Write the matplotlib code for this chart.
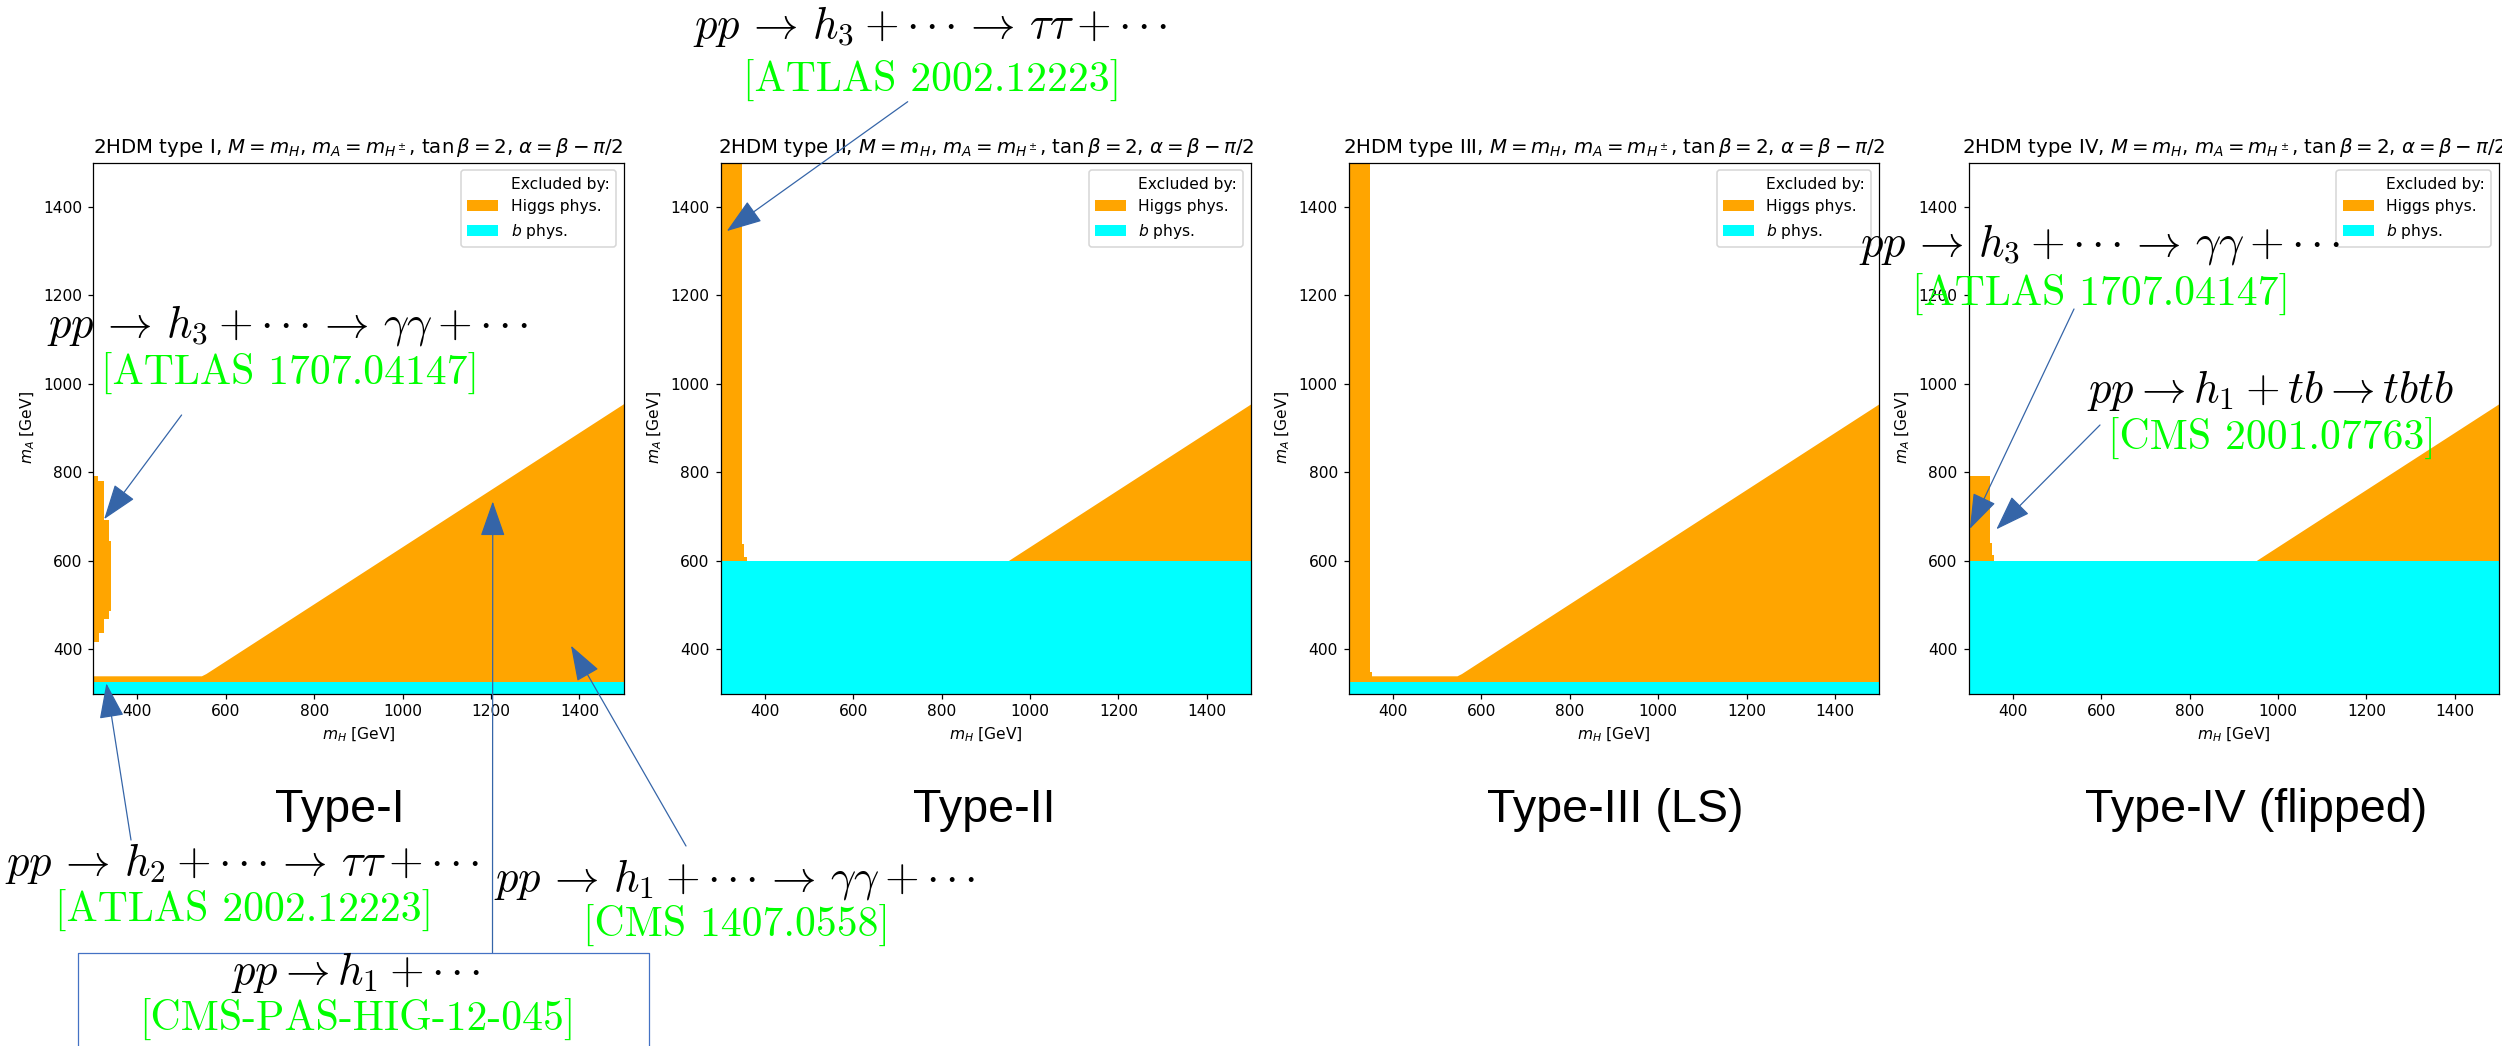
import matplotlib
matplotlib.use('Agg')
import matplotlib.pyplot as plt
from matplotlib.patches import Patch
from matplotlib.lines import Line2D

W, H = 2502, 1046
DPI = 112

# ---------------- data ----------------
PANEL_TYPES = ['I', 'II', 'III', 'IV']
PANEL_LABELS = ['Type-I', 'Type-II', 'Type-III (LS)', 'Type-IV (flipped)']
MH_LIM = [300, 1500]
MA_LIM = [300, 1500]

# b-physics exclusion: m_A below this value (GeV)
B_PHYS_MA_MAX = [326, 600, 326, 600]

# Higgs-physics exclusion: lower-right wedge (m_A below boundary)
DIAG_MH = [300, 545, 555, 1500]
DIAG_MA = [340, 340, 345, 955]

# Higgs-physics exclusion: strip at low m_H (m_H below value, step in m_A)
STRIP_I_MA = [417, 436, 468, 487, 645, 692, 780, 792]
STRIP_I_MH = [313, 324, 335, 341, 335, 324, 311, 311]
STRIP_II_MA = [590, 609, 637, 1500]
STRIP_II_MH = [359, 353, 348, 348]
STRIP_III_MA = [326, 349, 1500]
STRIP_III_MH = [352, 348, 348]
STRIP_IV_MA = [590, 613, 640, 792]
STRIP_IV_MH = [357, 353, 348, 348]
STRIPS = [(STRIP_I_MA, STRIP_I_MH), (STRIP_II_MA, STRIP_II_MH),
          (STRIP_III_MA, STRIP_III_MH), (STRIP_IV_MA, STRIP_IV_MH)]

LEGEND_LABELS = ['Excluded by:', 'Higgs phys.', '$b$ phys.']

# annotation texts
DOTS = r'{\cdot}\,{\cdot}\,{\cdot}'
ARR = r'\,\rightarrow\,'
PROC = [r'$pp' + ARR + 'h_3 + ' + DOTS + ARR + r'\tau\tau + ' + DOTS + '$',
        r'$pp' + ARR + 'h_3 + ' + DOTS + ARR + r'\gamma\gamma + ' + DOTS + '$',
        r'$pp' + ARR + 'h_2 + ' + DOTS + ARR + r'\tau\tau + ' + DOTS + '$',
        r'$pp' + ARR + 'h_1 + ' + DOTS + ARR + r'\gamma\gamma + ' + DOTS + '$',
        r'$pp \rightarrow h_1 + ' + DOTS + '$',
        r'$pp' + ARR + 'h_3 + ' + DOTS + ARR + r'\gamma\gamma + ' + DOTS + '$',
        r'$pp \rightarrow h_1 + tb \rightarrow tbtb$']
REFS = ['[ATLAS 2002.12223]', '[ATLAS 1707.04147]', '[ATLAS 2002.12223]',
        '[CMS 1407.0558]', '[CMS-PAS-HIG-12-045]', '[ATLAS 1707.04147]',
        '[CMS 2001.07763]']
# arrow target (panel index, m_H, m_A)
ARROW_PANEL = [1, 0, 0, 0, 0, 3, 3]
ARROW_MH = [314, 325, 330, 1381, 1204, 303, 363]
ARROW_MA = [1345, 694, 323, 408, 734, 672, 671]

# ---------------- layout ----------------
PROC_POS = [(930, 38), (288, 336), (242, 875), (735, 890), (355, 984),
            (2100, 255), (2271, 402)]
REF_POS = [(932, 92), (290, 385), (244, 922), (736, 937), (357, 1031),
           (2101, 306), (2272, 450)]
TAIL_POS = [(907.7, 101.7), (181.6, 415), (131, 840), (686, 846),
            (492.5, 952.7), (2074, 309), (2100, 425)]
AX_LEFT = [93.1, 720.6, 1348.7, 1968.5]
AX_TOP = 162.5
AX_W, AX_H = 530.5, 531
LABEL_X = [340, 984, 1615, 2256]
LABEL_Y = 822

ORANGE = 'orange'
CYAN = 'cyan'
GREEN = '#00ff00'
ARROW_C = '#3565a8'

fig = plt.figure(figsize=(W / DPI, H / DPI), dpi=DPI)


def fpx(x, y):
    return (x, H - y)


axes = []
for i, t in enumerate(PANEL_TYPES):
    l = AX_LEFT[i] / W
    b = (H - AX_TOP - AX_H) / H
    ax = fig.add_axes([l, b, AX_W / W, AX_H / H])
    axes.append(ax)
    ax.fill_between(DIAG_MH, MA_LIM[0], DIAG_MA, color=ORANGE, lw=0, zorder=1)
    sma, smh = STRIPS[i]
    ax.fill_betweenx(sma, MH_LIM[0], smh, step='post', color=ORANGE, lw=0, zorder=1)
    ax.fill_between(MH_LIM, MA_LIM[0], B_PHYS_MA_MAX[i], color=CYAN, lw=0, zorder=2)
    ax.set_xlim(MH_LIM)
    ax.set_ylim(MA_LIM)
    ax.set_title(r'2HDM type %s, $M=m_H$, $m_A=m_{H^\pm}$, $\tan\beta=2$, '
                 r'$\alpha=\beta-\pi/2$' % t, fontsize=12.7)
    ax.set_xlabel('$m_H$ [GeV]')
    ax.set_ylabel('$m_A$ [GeV]')
    handles = [Patch(facecolor='none', edgecolor='none'),
               Patch(facecolor=ORANGE), Patch(facecolor=CYAN)]
    ax.legend(handles, LEGEND_LABELS, loc='upper right')
    fig.text(LABEL_X[i] / W, 1 - LABEL_Y / H, PANEL_LABELS[i], ha='center',
             va='baseline', fontsize=30, family='Liberation Sans')

# annotations
for k in range(len(PROC)):
    x, y = PROC_POS[k]
    fig.text(x / W, 1 - y / H, PROC[k], ha='center', va='baseline',
             fontsize=28.6, math_fontfamily='cm', zorder=5)
    x, y = REF_POS[k]
    fig.text(x / W, 1 - y / H, REFS[k], ha='center', va='baseline',
             fontsize=26.8, family='cmr10', color=GREEN, zorder=5)
    ax = axes[ARROW_PANEL[k]]
    ax.annotate('', xy=(ARROW_MH[k], ARROW_MA[k]), xycoords='data',
                xytext=fpx(*TAIL_POS[k]), textcoords='figure pixels',
                arrowprops=dict(arrowstyle='-|>,head_length=2.0,head_width=0.7',
                                color=ARROW_C, lw=0.8, shrinkA=0, shrinkB=0,
                                mutation_scale=10),
                annotation_clip=False, zorder=10)

# box around the bottom annotation
bx0, bx1, by = 77.8, 648.6, 952.7
fig.add_artist(Line2D([bx0 / W, bx0 / W, bx1 / W, bx1 / W],
                      [-0.05, 1 - by / H, 1 - by / H, -0.05],
                      transform=fig.transFigure, color='#4472c4', lw=0.8))

fig.savefig('out.png', dpi=DPI)
